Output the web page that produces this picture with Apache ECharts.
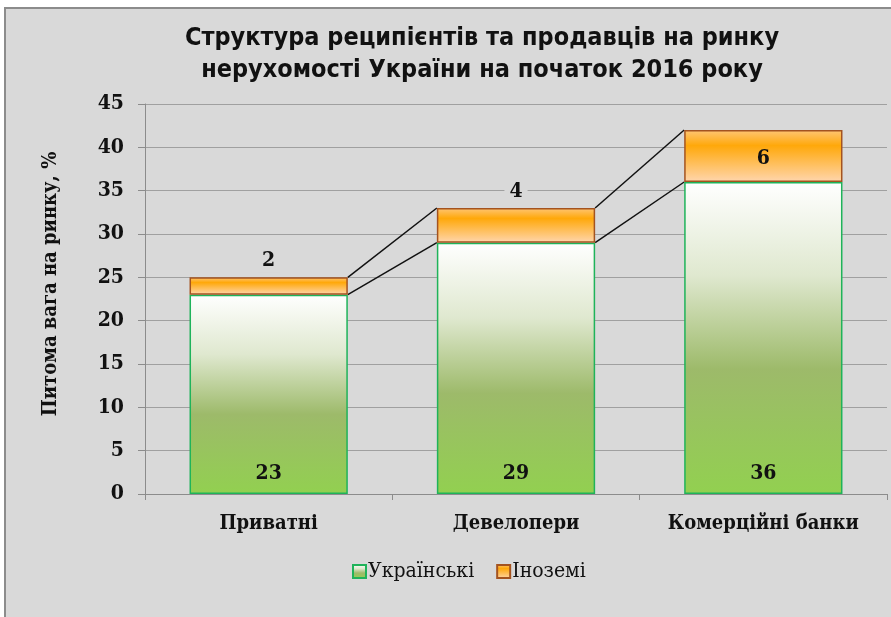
<!DOCTYPE html>
<html><head><meta charset="utf-8">
<script src="https://cdn.jsdelivr.net/npm/echarts@6/dist/echarts.min.js"></script>
<style>html,body{margin:0;padding:0;background:#fff}#c{width:891px;height:617px}</style>
</head><body><div id="c"></div>
<script>
const categories = ['Приватні', 'Девелопери', 'Комерційні банки'];
const ukrainian = [23, 29, 36];
const foreign = [2, 4, 6];
const seriesNames = ['Українські', 'Іноземі'];
const yMin = 0, yMax = 45, yStep = 5;
const titleText = 'Структура реципієнтів та продавців на ринку\nнерухомості України на початок 2016 року';
const yAxisName = 'Питома вага на ринку, %';

const sansCond = '"DejaVu Sans Condensed", "Open Sans", sans-serif';
const serifCond = '"DejaVu Serif Condensed", "DejaVu Serif", serif';
const BAR_FRAC = 0.64;

const chart = echarts.init(document.getElementById('c'));
const totals = ukrainian.map((v, i) => v + foreign[i]);

const option = {
  backgroundColor: '#ffffff',
  animation: false,
  graphic: [{
    type: 'rect', z: -10, silent: true,
    shape: { x: 5, y: 8, width: 900, height: 620 },
    style: { fill: '#d9d9d9', stroke: '#8c8c8c', lineWidth: 2 }
  }],
  title: {
    text: titleText,
    left: 477, top: 17, textAlign: 'center',
    textStyle: { fontFamily: sansCond, fontWeight: 'bold', fontSize: 25, lineHeight: 32, color: '#111' }
  },
  legend: {
    data: seriesNames,
    left: 347, top: 556, icon: 'rect',
    itemWidth: 13, itemHeight: 13, itemGap: 22,
    textStyle: { fontFamily: serifCond, fontSize: 21, color: '#111', padding: [0, 0, 0, -3] }
  },
  grid: { left: 145, right: 4, top: 104, bottom: 123, containLabel: false },
  xAxis: {
    type: 'category', data: categories,
    axisLine: { lineStyle: { color: '#8c8c8c', width: 1 } },
    axisTick: { show: true, length: 6, lineStyle: { color: '#8c8c8c' } },
    axisLabel: { interval: 0, margin: 20, fontFamily: serifCond, fontWeight: 'bold', fontSize: 20, color: '#111' }
  },
  yAxis: {
    type: 'value', min: yMin, max: yMax, interval: yStep,
    name: yAxisName, nameLocation: 'middle', nameGap: 84, nameRotate: 90,
    nameTextStyle: { fontFamily: serifCond, fontWeight: 'bold', fontSize: 20, color: '#111', padding: [0, 0, 0, 30] },
    axisLine: { show: true, lineStyle: { color: '#8c8c8c' } },
    axisTick: { show: true, inside: false, length: 7, lineStyle: { color: '#8c8c8c' } },
    splitLine: { lineStyle: { color: '#a0a0a0', width: 1 } },
    axisLabel: { margin: 21, fontFamily: serifCond, fontWeight: 'bold', fontSize: 21, color: '#111' }
  },
  series: [
    {
      name: seriesNames[0], type: 'bar', stack: 'total', barWidth: (BAR_FRAC * 100) + '%',
      data: ukrainian,
      itemStyle: {
        color: new echarts.graphic.LinearGradient(0, 0, 0, 1, [
          { offset: 0, color: '#ffffff' },
          { offset: 0.3, color: '#dfe8cf' },
          { offset: 0.6, color: '#9dba6a' },
          { offset: 1, color: '#92d050' }
        ]),
        borderColor: '#1fb35a', borderWidth: 1.5
      },
      label: {
        show: true, position: 'insideBottom', distance: 10,
        fontFamily: serifCond, fontWeight: 'bold', fontSize: 21, color: '#111'
      }
    },
    {
      name: seriesNames[1], type: 'bar', stack: 'total', barWidth: (BAR_FRAC * 100) + '%',
      data: foreign.map(v => v < 5
        ? { value: v, label: { position: 'top', backgroundColor: '#d9d9d9' } }
        : { value: v, label: { position: 'inside', offset: [0, 3] } }),
      itemStyle: {
        color: new echarts.graphic.LinearGradient(0, 0, 0, 1, [
          { offset: 0, color: '#ffc676' },
          { offset: 0.3, color: '#ffa80a' },
          { offset: 1, color: '#ffd6ae' }
        ]),
        borderColor: '#a4531f', borderWidth: 1.5
      },
      label: {
        show: true, distance: 5,
        fontFamily: serifCond, fontWeight: 'bold', fontSize: 21, color: '#111',
        padding: [1, 5]
      }
    },
    {
      name: 'connectors', type: 'custom', silent: true, z: 1,
      data: categories.map((c, i) => [i, ukrainian[i], totals[i]]),
      renderItem: function (params, api) {
        const i = params.dataIndex;
        if (i >= categories.length - 1) return null;
        const band = api.size([1, 0])[0];
        const hw = band * BAR_FRAC / 2;
        const children = [];
        [[ukrainian[i], ukrainian[i + 1]], [totals[i], totals[i + 1]]].forEach(pair => {
          const a = api.coord([i, pair[0]]);
          const b = api.coord([i + 1, pair[1]]);
          children.push({
            type: 'line',
            shape: { x1: a[0] + hw, y1: a[1], x2: b[0] - hw, y2: b[1] },
            style: { stroke: '#111', lineWidth: 1.5 }
          });
        });
        return { type: 'group', children: children };
      }
    }
  ]
};
chart.setOption(option);
</script></body></html>
